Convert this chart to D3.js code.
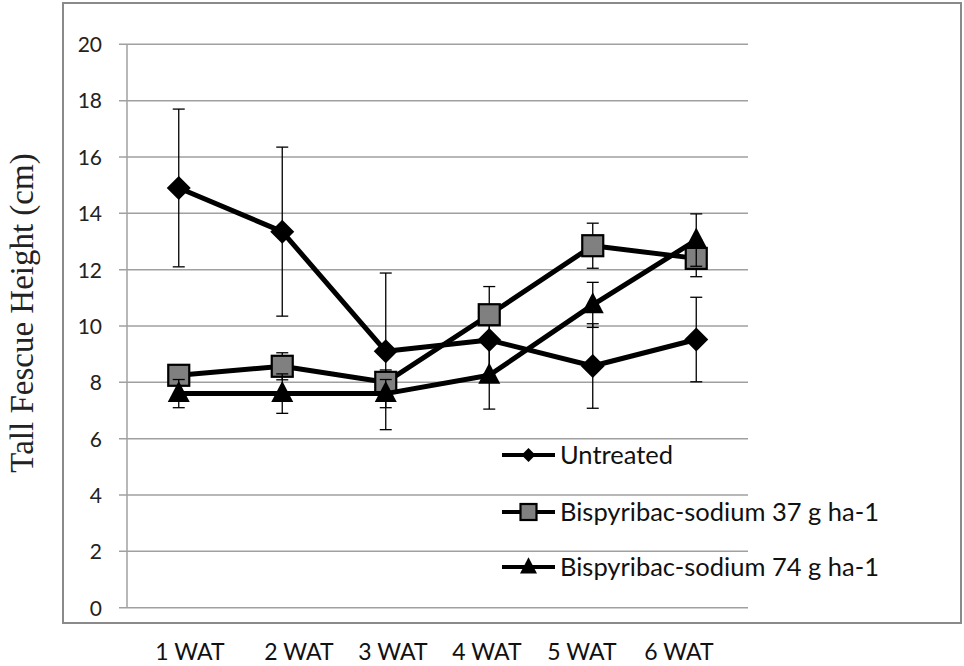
<!DOCTYPE html>
<html>
<head>
<meta charset="utf-8">
<script src="https://cdn.jsdelivr.net/npm/d3@7/dist/d3.min.js"></script>
<style>
  html, body { margin: 0; padding: 0; background: #fff; }
  svg { display: block; }
</style>
</head>
<body>
<svg id="chart" width="964" height="666"></svg>
<script>
// Weeks after treatment
const categories = ["1 WAT", "2 WAT", "3 WAT", "4 WAT", "5 WAT", "6 WAT"];
const yTicks = [0, 2, 4, 6, 8, 10, 12, 14, 16, 18, 20];

// Mean height (cm) and error (±) per treatment
const untreated = [14.9, 13.35, 9.1, 9.5, 8.58, 9.52];
const untreatedErr = [2.8, 3.0, 2.78, 1.2, 1.5, 1.5];
const bis37 = [8.25, 8.57, 8.0, 10.4, 12.85, 12.4];
const bis37Err = [0.3, 0.48, 0.44, 1.0, 0.8, 0.65];
const bis74 = [7.6, 7.6, 7.6, 8.25, 10.75, 13.05];
const bis74Err = [0.5, 0.7, 0.5, 1.2, 0.8, 0.93];

const seriesNames = ["Untreated", "Bispyribac-sodium 37 g ha-1", "Bispyribac-sodium 74 g ha-1"];

const series = [
  { name: seriesNames[0], values: untreated, errs: untreatedErr, marker: "diamond" },
  { name: seriesNames[1], values: bis37, errs: bis37Err, marker: "square" },
  { name: seriesNames[2], values: bis74, errs: bis74Err, marker: "triangle" }
];

const svg = d3.select("#chart");
const sansFont = "Lato, 'Open Sans', sans-serif";

// Outer frame
svg.append("rect")
  .attr("x", 63).attr("y", 3).attr("width", 898).attr("height", 620)
  .attr("fill", "none").attr("stroke", "#8a8a8a").attr("stroke-width", 2);

const plot = { left: 127, right: 748, top: 44.3, bottom: 607.7 };

const x = d3.scalePoint().domain(categories).range([plot.left, plot.right]).padding(0.5);
const y = d3.scaleLinear().domain([0, 20]).range([plot.bottom, plot.top]);

// Horizontal gridlines with tick stubs
svg.append("g").selectAll("line").data(yTicks).join("line")
  .attr("x1", plot.left - 8).attr("x2", plot.right)
  .attr("y1", d => y(d)).attr("y2", d => y(d))
  .attr("stroke", "#a0a0a0").attr("stroke-width", 1.5);

// Value axis line
svg.append("line")
  .attr("x1", plot.left).attr("x2", plot.left)
  .attr("y1", y(20)).attr("y2", y(0))
  .attr("stroke", "#a0a0a0").attr("stroke-width", 1.5);

// Value axis labels
const yAxis = d3.axisLeft(y).tickValues(yTicks).tickSize(0).tickPadding(0);
const yg = svg.append("g").attr("transform", `translate(${plot.left - 25},0)`).call(yAxis);
yg.select(".domain").remove();
yg.selectAll("text")
  .attr("font-family", sansFont).attr("font-size", 21).attr("fill", "#222")
  .attr("dy", "0.35em");

// Axis title
svg.append("text")
  .attr("transform", "translate(33,313) rotate(-90)")
  .attr("text-anchor", "middle")
  .attr("font-family", "'Liberation Serif', 'Times New Roman', serif")
  .attr("font-size", 33).attr("fill", "#222")
  .text("Tall Fescue Height (cm)");

// Category labels below the frame
const labelPos = [190, 299, 393, 487, 582, 679];
svg.append("g").selectAll("text").data(categories).join("text")
  .attr("x", (d, i) => labelPos[i]).attr("y", 660)
  .attr("text-anchor", "middle")
  .attr("font-family", sansFont).attr("font-size", 23).attr("fill", "#111")
  .text(d => d);

// Marker shapes
function drawMarker(g, type, cx, cy, s) {
  if (type === "diamond") {
    g.append("path")
      .attr("d", `M${cx},${cy - s}L${cx + s},${cy}L${cx},${cy + s}L${cx - s},${cy}Z`)
      .attr("fill", "#000");
  } else if (type === "square") {
    g.append("rect")
      .attr("x", cx - s).attr("y", cy - s).attr("width", 2 * s).attr("height", 2 * s)
      .attr("fill", "#808080").attr("stroke", "#000").attr("stroke-width", 2.2);
  } else {
    const h = s * 1.9;
    g.append("path")
      .attr("d", `M${cx},${cy - h * 0.6}L${cx + s},${cy + h * 0.4}L${cx - s},${cy + h * 0.4}Z`)
      .attr("fill", "#000");
  }
}

const markerSize = { diamond: 12, square: 10.5, triangle: 11 };
const line = d3.line().x((d, i) => x(categories[i])).y(d => y(d));

series.forEach(s => {
  const g = svg.append("g");
  g.append("path")
    .datum(s.values)
    .attr("d", line)
    .attr("fill", "none").attr("stroke", "#000").attr("stroke-width", 5)
    .attr("stroke-linejoin", "round");

  // Error bars
  s.values.forEach((v, i) => {
    const cx = x(categories[i]);
    const top = y(v + s.errs[i]);
    const bot = y(v - s.errs[i]);
    g.append("line").attr("x1", cx).attr("x2", cx).attr("y1", top).attr("y2", bot)
      .attr("stroke", "#000").attr("stroke-width", 1.3);
    [top, bot].forEach(yy => g.append("line")
      .attr("x1", cx - 6).attr("x2", cx + 6).attr("y1", yy).attr("y2", yy)
      .attr("stroke", "#000").attr("stroke-width", 1.3));
  });

  s.values.forEach((v, i) => drawMarker(g, s.marker, x(categories[i]), y(v), markerSize[s.marker]));
});

// Legend
const legendRows = [455, 512, 567];
const legendMarker = { diamond: 7, square: 8, triangle: 8.5 };
series.forEach((s, i) => {
  const g = svg.append("g");
  const cy = legendRows[i];
  g.append("line").attr("x1", 502).attr("x2", 555).attr("y1", cy).attr("y2", cy)
    .attr("stroke", "#000").attr("stroke-width", 4);
  drawMarker(g, s.marker, 528.5, cy, legendMarker[s.marker]);
  g.append("text")
    .attr("x", 560).attr("y", cy).attr("dy", "0.35em")
    .attr("font-family", sansFont).attr("font-size", 25.5).attr("fill", "#111")
    .text(s.name);
});
</script>
</body>
</html>
